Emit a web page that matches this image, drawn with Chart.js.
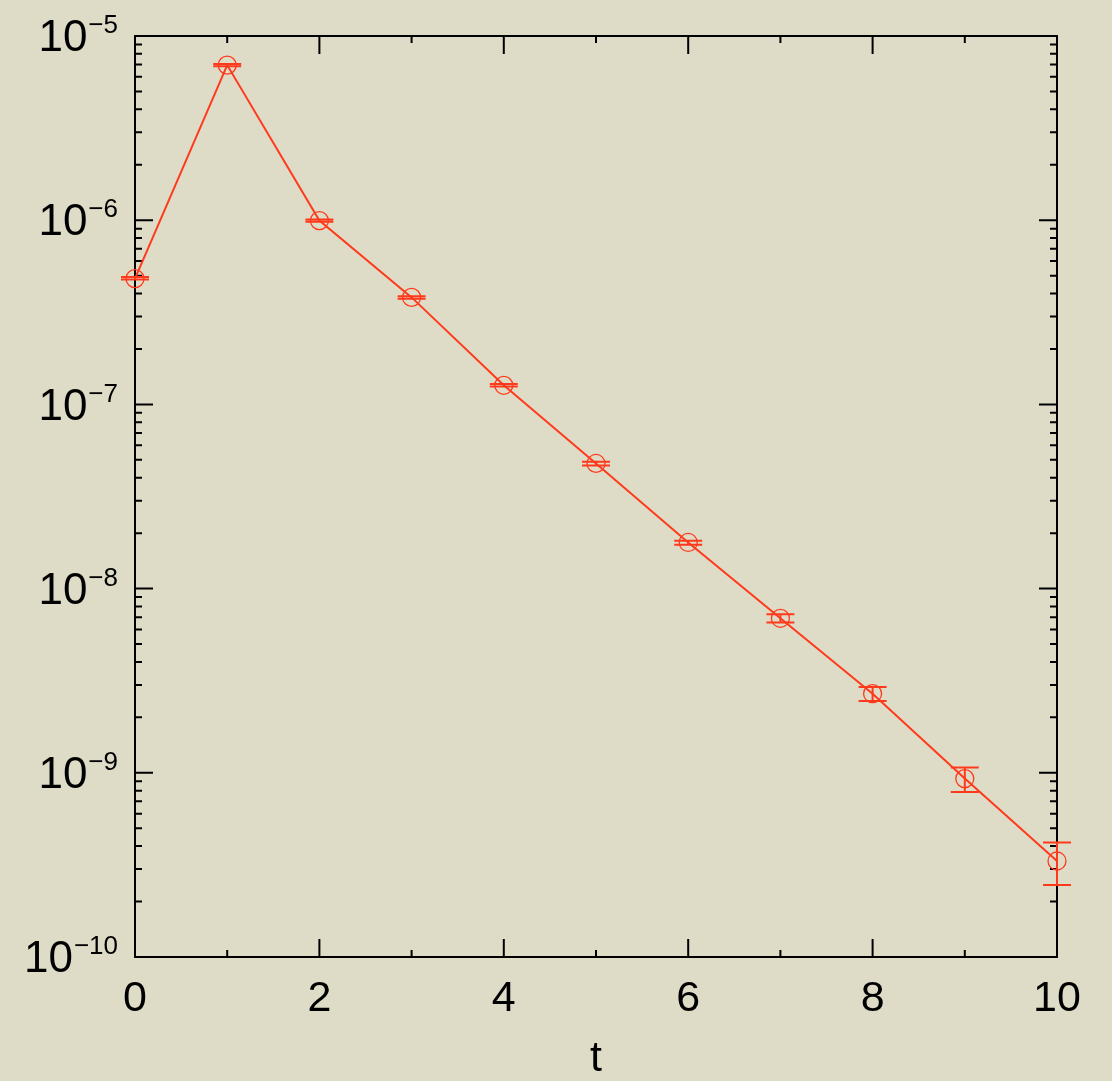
<!DOCTYPE html>
<html lang="en">
<head>
    <meta charset="UTF-8">
    <title>Correlator vs t</title>
    <style>
        body {
            margin: 0;
            padding: 0;
            background-color: #dedcc7;
        }
        #chart-container {
            width: 1112px;
            height: 1081px;
        }
    </style>
</head>
<body>

    <div id="chart-container">
        <canvas id="corrChart" width="1112" height="1081"></canvas>
    </div>

    <script src="https://cdn.jsdelivr.net/npm/chart.js"></script>

    <script>
        // Data
        const tValues = [0, 1, 2, 3, 4, 5, 6, 7, 8, 9, 10];
        const corrValues = [4.82e-7, 6.95e-6, 9.95e-7, 3.81e-7, 1.27e-7, 4.78e-8, 1.78e-8, 6.9e-9, 2.69e-9, 9.3e-10, 3.32e-10];
        const corrUpper = [4.92e-7, 7.05e-6, 1.01e-6, 3.87e-7, 1.29e-7, 4.89e-8, 1.82e-8, 7.25e-9, 2.92e-9, 1.067e-9, 4.19e-10];
        const corrLower = [4.76e-7, 6.85e-6, 9.8e-7, 3.75e-7, 1.25e-7, 4.66e-8, 1.73e-8, 6.55e-9, 2.45e-9, 7.87e-10, 2.46e-10];

        // Axis ticks
        const xTickLabels = ['0', '2', '4', '6', '8', '10'];
        const yDecades = [-10, -9, -8, -7, -6, -5];

        const red = '#ff3a1c';
        const fontFamily = '"Liberation Sans", Arial, sans-serif';

        // Error bars with caps (drawn on top of the frame)
        const errorBars = {
            id: 'errorBars',
            afterDatasetsDraw(chart) {
                const ctx = chart.ctx;
                const x = chart.scales.x, y = chart.scales.y;
                ctx.save();
                ctx.strokeStyle = red;
                ctx.lineWidth = 2;
                tValues.forEach((t, i) => {
                    const px = x.getPixelForValue(t);
                    const top = y.getPixelForValue(corrUpper[i]);
                    const bot = y.getPixelForValue(corrLower[i]);
                    ctx.beginPath();
                    ctx.moveTo(px, top); ctx.lineTo(px, bot);
                    ctx.moveTo(px - 14, top); ctx.lineTo(px + 14, top);
                    ctx.moveTo(px - 14, bot); ctx.lineTo(px + 14, bot);
                    ctx.stroke();
                });
                ctx.restore();
            }
        };

        // Frame, inward ticks on all four sides, and y labels with exponents
        const frameTicks = {
            id: 'frameTicks',
            beforeDatasetsDraw(chart) {
                const ctx = chart.ctx;
                const a = chart.chartArea;
                const x = chart.scales.x, y = chart.scales.y;
                ctx.save();
                ctx.strokeStyle = '#000';
                ctx.lineWidth = 2;
                ctx.strokeRect(a.left, a.top, a.right - a.left, a.bottom - a.top);

                ctx.beginPath();
                for (let t = 0; t <= 10; t++) {
                    const px = x.getPixelForValue(t);
                    const len = t % 2 === 0 ? 18 : 7;
                    ctx.moveTo(px, a.bottom); ctx.lineTo(px, a.bottom - len);
                    ctx.moveTo(px, a.top); ctx.lineTo(px, a.top + len);
                }
                yDecades.forEach((e, k) => {
                    const py = y.getPixelForValue(Math.pow(10, e));
                    ctx.moveTo(a.left, py); ctx.lineTo(a.left + 18, py);
                    ctx.moveTo(a.right, py); ctx.lineTo(a.right - 18, py);
                    if (k < yDecades.length - 1) {
                        for (let m = 2; m <= 9; m++) {
                            const pm = y.getPixelForValue(m * Math.pow(10, e));
                            ctx.moveTo(a.left, pm); ctx.lineTo(a.left + 7, pm);
                            ctx.moveTo(a.right, pm); ctx.lineTo(a.right - 7, pm);
                        }
                    }
                });
                ctx.stroke();

                // y labels: 10 with superscript exponent
                ctx.fillStyle = '#000';
                ctx.textBaseline = 'middle';
                yDecades.forEach(e => {
                    const py = y.getPixelForValue(Math.pow(10, e));
                    const expText = '\u2212' + Math.abs(e);
                    ctx.font = '26px ' + fontFamily;
                    const expW = ctx.measureText(expText).width;
                    const right = a.left - 17;
                    ctx.textAlign = 'right';
                    ctx.fillText(expText, right, py - 10);
                    ctx.font = '44px ' + fontFamily;
                    ctx.fillText('10', right - expW - 1, py + 3);
                });
                ctx.restore();
            }
        };

        const ctx = document.getElementById('corrChart').getContext('2d');
        new Chart(ctx, {
            type: 'line',
            data: {
                datasets: [{
                    data: tValues.map((t, i) => ({ x: t, y: corrValues[i] })),
                    borderColor: red,
                    borderWidth: 2,
                    pointStyle: 'circle',
                    pointRadius: 9,
                    pointBorderWidth: 1.3,
                    pointBorderColor: red,
                    pointBackgroundColor: 'rgba(0,0,0,0)',
                    tension: 0,
                    clip: false
                }]
            },
            options: {
                responsive: false,
                animation: false,
                layout: {
                    padding: { top: 36, right: 55, left: 0, bottom: 0 }
                },
                plugins: {
                    legend: { display: false },
                    tooltip: { enabled: false }
                },
                scales: {
                    x: {
                        type: 'linear',
                        min: 0,
                        max: 10,
                        grid: { display: false, drawTicks: false },
                        border: { display: false },
                        ticks: {
                            stepSize: 2,
                            color: '#000',
                            padding: 16,
                            maxRotation: 0,
                            font: { size: 43, family: fontFamily },
                            callback: (v) => xTickLabels[v / 2]
                        },
                        title: {
                            display: true,
                            text: 't',
                            color: '#000',
                            padding: { top: 0, bottom: -4 },
                            font: { size: 43, family: fontFamily }
                        },
                        afterFit: (s) => { s.height = 124; }
                    },
                    y: {
                        type: 'logarithmic',
                        min: 1e-10,
                        max: 1e-5,
                        grid: { display: false, drawTicks: false },
                        border: { display: false },
                        ticks: { display: false },
                        afterFit: (s) => { s.width = 135; }
                    }
                }
            },
            plugins: [errorBars, frameTicks]
        });
    </script>

</body>
</html>
